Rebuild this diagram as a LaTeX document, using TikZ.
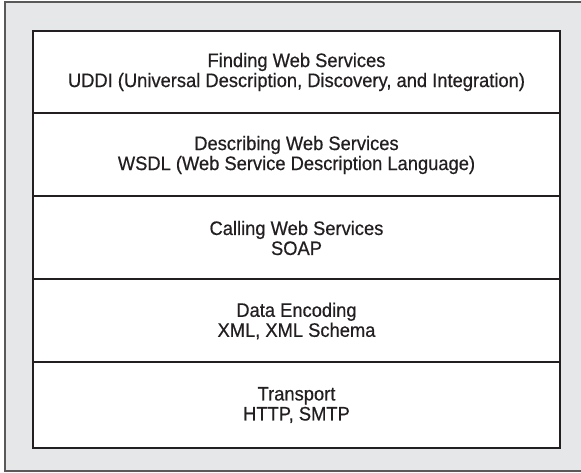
\documentclass[tikz,border=0pt]{standalone}
\usepackage{fontspec}
\setmainfont[FakeStretch=0.94,FakeBold=0.5]{Liberation Sans}
\definecolor{framegray}{HTML}{E6E7E8}
\definecolor{ink}{HTML}{231F20}
\begin{document}
\begin{tikzpicture}[x=1pt,y=-1pt,
  layer/.style={align=center,font=\fontsize{19.5}{20}\selectfont,text=ink,inner sep=0pt}]
\useasboundingbox (0,0) rectangle (581,473);
\begin{scope}
\clip (0,0) rectangle (581,473);
\draw[draw=black!65,line width=1.6pt,fill=framegray] (5,2) rectangle (600,471);
\end{scope}
\draw[draw=ink,line width=2.4pt,fill=white] (33,31) rectangle (560,448);
\foreach \y in {113,196,279,362}{\draw[draw=ink,line width=2.2pt] (33,\y) -- (560,\y);}
\node[layer] (find) at (296.5,72) {Finding Web Services\\UDDI (Universal Description, Discovery, and Integration)};
\node[layer] (desc) at (296.5,155) {Describing Web Services\\WSDL (Web Service Description Language)};
\node[layer] (call) at (296.5,238) {Calling Web Services\\SOAP};
\node[layer] (enc) at (296.5,321) {Data Encoding\\XML, XML Schema};
\node[layer] (trans) at (296.5,405) {Transport\\HTTP, SMTP};
\end{tikzpicture}
\end{document}
